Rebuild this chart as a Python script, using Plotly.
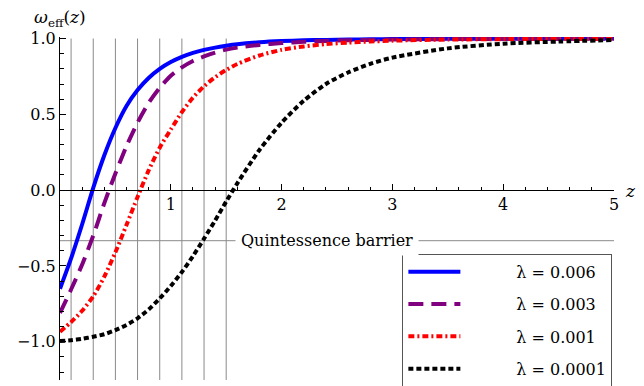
import plotly.graph_objects as go

# ---- data ----
z = [0, 0.1, 0.2, 0.3, 0.4, 0.5, 0.6, 0.7, 0.8, 0.9, 1.0, 1.1, 1.2, 1.3, 1.4, 1.5,
     1.6, 1.8, 2.0, 2.2, 2.4, 2.6, 2.8, 3.0, 3.5, 4.0, 4.5, 5.0]

w_lam_0006 = [-0.65, -0.45, -0.225, 0.015, 0.23, 0.41, 0.555, 0.66, 0.74, 0.80, 0.845, 0.879,
              0.905, 0.925, 0.94, 0.952, 0.962, 0.975, 0.983, 0.988, 0.991, 0.993, 0.995,
              0.996, 0.998, 0.999, 0.999, 1.0]
w_lam_0003 = [-0.81, -0.655, -0.49, -0.30, -0.085, 0.11, 0.29, 0.445, 0.575, 0.675, 0.755, 0.81,
              0.852, 0.882, 0.907, 0.927, 0.94, 0.958, 0.97, 0.978, 0.984, 0.988, 0.991,
              0.993, 0.996, 0.998, 0.999, 0.999]
w_lam_0001 = [-0.934, -0.87, -0.795, -0.70, -0.57, -0.41, -0.23, -0.045, 0.13, 0.28, 0.40, 0.515,
              0.61, 0.685, 0.745, 0.793, 0.832, 0.888, 0.925, 0.948, 0.963, 0.973, 0.98,
              0.986, 0.993, 0.996, 0.998, 0.999]
w_lam_00001 = [-0.995, -0.99, -0.98, -0.967, -0.95, -0.923, -0.889, -0.845, -0.787, -0.714, -0.632,
               -0.54, -0.435, -0.32, -0.20, -0.075, 0.045, 0.265, 0.445, 0.59, 0.70, 0.776, 0.833,
               0.874, 0.935, 0.966, 0.98, 0.99]

series = [w_lam_0006, w_lam_0003, w_lam_0001, w_lam_00001]
lambda_labels = ["λ = 0.006", "λ = 0.003", "λ = 0.001", "λ = 0.0001"]

grid_z = [0.1, 0.3, 0.5, 0.7, 0.9, 1.1, 1.3, 1.5]
barrier_w = -1 / 3
barrier_label = "Quintessence barrier"

x_tickvals = [1, 2, 3, 4, 5]
x_ticktext = ["1", "2", "3", "4", "5"]
y_tickvals = [-1.0, -0.5, 0.0, 0.5, 1.0]
y_ticktext = ["\u22121.0", "\u22120.5", "0.0", "0.5", "1.0"]

# ---- styles ----
colors = ["#0000ff", "#800080", "#ff0000", "#000000"]
dashes = ["solid", "15px,8px", "6px,3px,2px,3px", "5px,3px"]
FONT = "DejaVu Serif"
FS = 16
XR = [0, 5]
YR = [-1.252, 1.01]
x_axis_pos = (0 - YR[0]) / (YR[1] - YR[0])

fig = go.Figure()
pad = "\u00a0" * 10
for i, (w, lab, c, d) in enumerate(zip(series, lambda_labels, colors, dashes)):
    fig.add_trace(go.Scatter(
        x=z, y=w, mode="lines", name=pad + lab, legendgroup=str(i),
        line=dict(color=c, width=4, dash=d, shape="spline", smoothing=0.7),
    ))

for gz in grid_z:
    fig.add_shape(type="line", xref="x", yref="y", x0=gz, x1=gz, y0=YR[0], y1=1.0,
                  line=dict(color="#8a8a8a", width=1), layer="below")

fig.add_shape(type="line", xref="x", yref="y", x0=XR[0], x1=XR[1], y0=barrier_w, y1=barrier_w,
              line=dict(color="#8a8a8a", width=1), layer="below")

fig.add_annotation(x=2.41, y=barrier_w, xref="x", yref="y", text=barrier_label,
                   showarrow=False, bgcolor="white", borderpad=5,
                   font=dict(family=FONT, size=FS, color="black"))

fig.add_annotation(x=0, y=1, xref="paper", yref="paper", xanchor="center", yanchor="bottom",
                   yshift=5, text="<i>ω</i><sub>eff</sub>(<i>z</i>)", showarrow=False,
                   font=dict(family=FONT, size=17, color="black"))
fig.add_annotation(x=1.03, y=0, xref="paper", yref="y", xanchor="center", yanchor="middle",
                   yshift=-1, text="<i>z</i>", showarrow=False,
                   font=dict(family=FONT, size=17, color="black"))

fig.update_layout(
    template="none",
    width=644, height=386,
    margin=dict(l=60, r=30, t=37, b=6, autoexpand=False),
    paper_bgcolor="white", plot_bgcolor="white",
    font=dict(family=FONT, size=FS, color="black"),
    showlegend=True,
    legend=dict(x=0.618, y=-0.02, xanchor="left", yanchor="bottom",
                bordercolor="#555555", borderwidth=1, bgcolor="white",
                font=dict(family=FONT, size=FS, color="black"),
                itemwidth=52, tracegroupgap=8.5),
    xaxis=dict(range=XR, showline=True, linecolor="black", linewidth=1,
               anchor="free", position=x_axis_pos, showgrid=False, zeroline=False,
               ticks="inside", ticklen=6, tickcolor="black", tickwidth=1,
               tickvals=x_tickvals, ticktext=x_ticktext,
               tickfont=dict(family=FONT, size=FS, color="black"),
               minor=dict(ticks="inside", ticklen=3.5, dtick=0.2, tick0=0,
                          tickcolor="black", tickwidth=1),
               automargin=False),
    yaxis=dict(range=YR, showline=True, linecolor="black", linewidth=1,
               showgrid=False, zeroline=False,
               ticks="inside", ticklen=6, tickcolor="black", tickwidth=1,
               tickvals=y_tickvals, ticktext=y_ticktext,
               tickfont=dict(family=FONT, size=FS, color="black"),
               minor=dict(ticks="inside", ticklen=3.5, dtick=0.1, tick0=0,
                          tickcolor="black", tickwidth=1),
               automargin=False),
)

fig.write_html("out.html")
